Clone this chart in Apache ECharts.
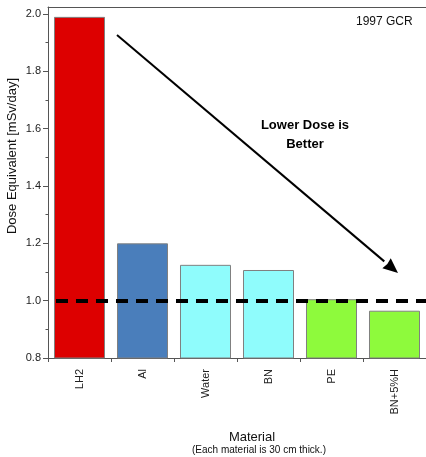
<!DOCTYPE html>
<html><head><meta charset="utf-8">
<script src="https://cdn.jsdelivr.net/npm/echarts@6/dist/echarts.min.js"></script>
<style>html,body{margin:0;padding:0;background:#fff}#c{width:426px;height:457px}</style>
</head><body><div id="c"></div>
<script>
const categories = ['LH2', 'Al', 'Water', 'BN', 'PE', 'BN+5%H'];
const doseValues = [1.99, 1.20, 1.125, 1.107, 1.005, 0.965];
const barColors = ['#dd0000', '#4a7ebb', '#8ffcfc', '#8ffcfc', '#8efa3c', '#8efa3c'];
const yTickValues = [0.8, 1.0, 1.2, 1.4, 1.6, 1.8, 2.0];
const yMinorTickValues = [0.9, 1.1, 1.3, 1.5, 1.7, 1.9];
const referenceLevel = 1.0;

const font = 'Liberation Sans, Arial, sans-serif';
const chart = echarts.init(document.getElementById('c'), null, {renderer: 'canvas'});

// arrow geometry
const a0 = [117, 35], a1 = [398, 273];
const dx = a1[0] - a0[0], dy = a1[1] - a0[1], L = Math.hypot(dx, dy);
const ux = dx / L, uy = dy / L, px = -uy, py = ux;
const hl = 18, hw = 6.5;
const base = [a1[0] - ux * hl, a1[1] - uy * hl];

chart.setOption({
  animation: false,
  grid: {left: 48, top: 7, right: -6, bottom: 99, containLabel: false},
  xAxis: [{
    type: 'category', data: categories, position: 'bottom',
    axisLine: {lineStyle: {color: '#555', width: 1}},
    axisTick: {show: true, inside: false, length: 4, lineStyle: {color: '#555'}},
    axisLabel: {rotate: 90, margin: 11, color: '#222', fontFamily: font, fontSize: 11}
  }, {
    type: 'category', data: categories, position: 'top',
    axisLine: {lineStyle: {color: '#555', width: 1}},
    axisTick: {show: false}, axisLabel: {show: false}
  }],
  yAxis: [{
    type: 'value', min: 0.8, max: 2.0244,
    axisLine: {show: true, lineStyle: {color: '#555', width: 1}},
    axisTick: {show: true, length: 5, customValues: yTickValues, lineStyle: {color: '#555'}},
    axisLabel: {customValues: yTickValues, formatter: v => v.toFixed(1), color: '#222',
      fontFamily: font, fontSize: 11, margin: 7},
    splitLine: {show: false}
  }, {
    type: 'value', min: 0.8, max: 2.0244, position: 'left',
    axisLine: {show: false},
    axisTick: {show: true, length: 2.5, customValues: yMinorTickValues, lineStyle: {color: '#555'}},
    axisLabel: {show: false}, splitLine: {show: false}
  }],
  series: [{
    type: 'bar',
    data: doseValues.map((v, i) => ({value: v, itemStyle: {color: barColors[i]}})),
    barCategoryGap: '19%',
    itemStyle: {borderColor: '#808080', borderWidth: 1},
    markLine: {
      silent: true, symbol: 'none', label: {show: false},
      lineStyle: {color: '#000', width: 4, type: [12, 8], dashOffset: 12},
      data: [{yAxis: referenceLevel}]
    }
  }],
  graphic: [
    {type: 'polyline', shape: {points: [a0, base]}, style: {stroke: '#000', lineWidth: 2}, z: 10},
    {type: 'polygon', shape: {points: [a1,
      [base[0] + px * hw + ux * 3, base[1] + py * hw + uy * 3],
      [base[0] + ux * 4, base[1] + uy * 4],
      [base[0] - px * hw + ux * 3, base[1] - py * hw + uy * 3]]}, style: {fill: '#000'}, z: 10},
    {type: 'text', left: 356, top: 16, style: {text: '1997 GCR', font: '12px ' + font, fill: '#111'}},
    {type: 'text', x: 305, y: 116, style: {text: 'Lower Dose is\nBetter', font: 'bold 13px ' + font,
      fill: '#000', align: 'center', lineHeight: 19}},
    {type: 'text', x: 12, y: 156, rotation: Math.PI / 2, style: {text: 'Dose Equivalent [mSv/day]',
      font: '13px ' + font, fill: '#111', align: 'center', verticalAlign: 'middle'}},
    {type: 'text', x: 252, y: 437, style: {text: 'Material', font: '13px ' + font, fill: '#111',
      align: 'center', verticalAlign: 'middle'}},
    {type: 'text', x: 259, y: 450, style: {text: '(Each material is 30 cm thick.)', font: '10px ' + font,
      fill: '#111', align: 'center', verticalAlign: 'middle'}}
  ]
});
</script></body></html>
